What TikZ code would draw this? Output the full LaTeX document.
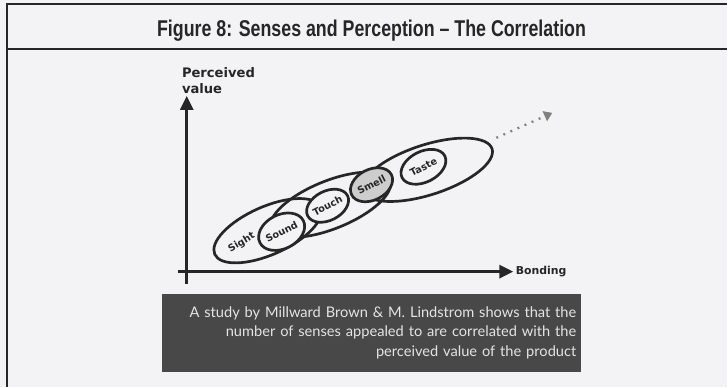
\documentclass[tikz,border=0pt]{standalone}
\usepackage{fontspec}
\setmainfont{Liberation Sans}
\newfontfamily\narrowsf[FakeStretch=0.78]{Liberation Sans}
\newfontfamily\widesf{DejaVu Sans}
\newfontfamily\notesf{Lato}
\usetikzlibrary{arrows.meta,calc,positioning,shapes.geometric}
\definecolor{paper}{RGB}{243,243,246}
\definecolor{inkdark}{RGB}{38,38,38}
\definecolor{notebg}{RGB}{72,72,72}
\definecolor{notetext}{RGB}{228,228,228}
\definecolor{smellfill}{RGB}{205,205,205}

\begin{document}
\begin{tikzpicture}[x=0.03cm, y=-0.03cm,
      frameline/.style={draw=inkdark, line width=1.6pt},
      axis/.style={draw=inkdark, line width=2.8pt, -{Triangle[length=12pt, width=11pt]}},
      sense/.style={ellipse, draw=inkdark, line width=2.3pt, inner sep=0pt, rotate=27, font=\widesf\bfseries\fontsize{8.3}{9}\selectfont, text=inkdark},
      bigring/.style={draw=inkdark, line width=2.3pt},
      notebox/.style={fill=notebg, text=notetext, minimum width=12.6cm, minimum height=2.34cm, text width=12.3cm, align=right, inner sep=0.15cm, font=\notesf\fontsize{12.5}{16.5}\selectfont}
    ]
      \fill[paper] (0,0) rectangle (728,387);

      % Frame and title
      \draw[frameline] (7,387) -- (7,4) -- (728,4);
      \draw[frameline, line width=1.3pt] (7,49) -- (728,49);
      \node[font=\narrowsf\bfseries\fontsize{19.5}{22}\selectfont, text=inkdark, anchor=base] (title) at (372,37) {Figure 8: Senses and Perception – The Correlation};

      % Axes
      \coordinate (ybase) at (187,284);
      \coordinate (ytip) at (187,96);
      \coordinate (xbase) at (178,272);
      \coordinate (xtip) at (514,272);
      \draw[axis] (ybase) -- (ytip);
      \draw[axis] (xbase) -- (xtip);
      \node[font=\widesf\bfseries\fontsize{11.2}{13.6}\selectfont, text=inkdark, align=left, anchor=south west, inner sep=0pt] (yname) at (182,94) {Perceived\\value};
      \node[font=\widesf\bfseries\fontsize{9.3}{11}\selectfont, text=inkdark, anchor=west, inner sep=2pt] (xname) at (xtip) {Bonding};

      % Large rings
      \draw[bigring, rotate around={24:(268,231)}] (268,231) ellipse [x radius=58, y radius=24];
      \draw[bigring, rotate around={22:(331,205)}] (331,205) ellipse [x radius=64, y radius=24];
      \draw[bigring, rotate around={18:(428,170)}] (428,170) ellipse [x radius=68, y radius=25];

      % Senses
      \node[sense, draw=none, rotate=4] (sight) at (242,243) {Sight};
      \node[sense, fill=paper, minimum width=1.46cm, minimum height=1.02cm] (sound) at (282,232) {Sound};
      \node[sense, fill=paper, minimum width=1.34cm, minimum height=0.88cm] (touch) at (328,206) {Touch};
      \node[sense, fill=smellfill, minimum width=1.34cm, minimum height=0.92cm] (smell) at (372,185) {Smell};
      \node[sense, fill=paper, minimum width=1.44cm, minimum height=0.92cm] (taste) at (424,167) {Taste};

      % Trend continues
      \coordinate (trendfrom) at (497,138);
      \coordinate (trendto) at (553,113);
      \draw[draw=gray, line width=2pt, dash pattern=on 1.6pt off 5pt, -{Triangle[length=7pt, width=9pt, fill=gray]}] (trendfrom) -- (trendto);

      % Note
      \node[notebox] (note) at (372,333) {A study by Millward Brown \& M. Lindstrom shows that the\\
        number of senses appealed to are correlated with the\\
        perceived value of the product};
    \end{tikzpicture}
\end{document}
